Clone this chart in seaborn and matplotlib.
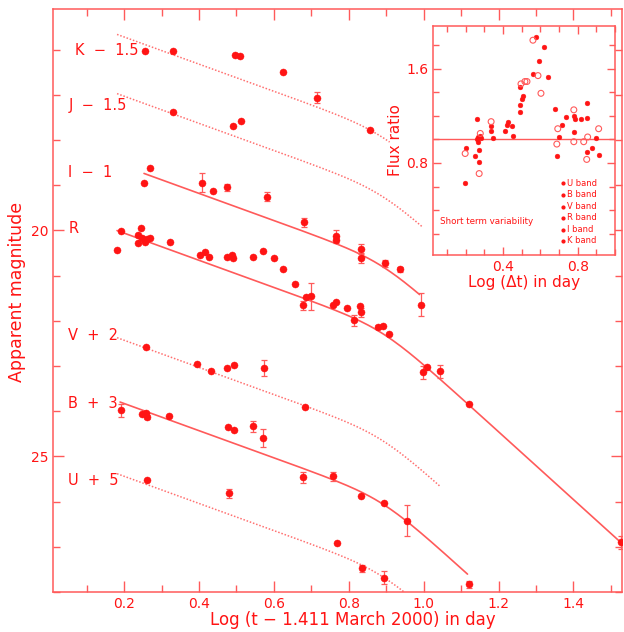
import numpy as np
import pandas as pd
import matplotlib
matplotlib.use("Agg")
import matplotlib.pyplot as plt
from matplotlib.ticker import MultipleLocator
import seaborn as sns

sns.set_style("ticks")
plt.rcParams['font.family'] = ['DejaVu Sans']

RED = '#ff1414'
LRED = '#ff5a5a'

# ---------------- main light-curve data ----------------
K_x = [0.256, 0.331, 0.496, 0.509, 0.624, 0.715, 0.856]
K_y = [16.02, 16.04, 16.11, 16.15, 16.50, 17.06, 17.77]
K_e = [0, 0, 0, 0, 0, 0.12, 0]

J_x = [0.331, 0.491, 0.512]
J_y = [17.39, 17.70, 17.57]
J_e = [0, 0, 0]

I_x = [0.254, 0.269, 0.407, 0.436, 0.474, 0.581, 0.680, 0.765, 0.767, 0.832, 0.832, 0.896, 0.936, 0.992]
I_y = [18.94, 18.61, 18.94, 19.12, 19.05, 19.25, 19.82, 20.13, 20.22, 20.40, 20.62, 20.73, 20.86, 21.64]
I_e = [0, 0, 0.2, 0, 0.08, 0.1, 0.1, 0.15, 0, 0.1, 0.1, 0.08, 0.05, 0.25]

R_x = [0.181, 0.192, 0.238, 0.238, 0.245, 0.247, 0.256, 0.260, 0.268, 0.323, 0.403, 0.416,
       0.427, 0.474, 0.488, 0.490, 0.544, 0.571, 0.600, 0.624, 0.656, 0.677, 0.685, 0.699,
       0.757, 0.765, 0.795, 0.813, 0.829, 0.832, 0.877, 0.891, 0.907, 0.997, 1.008, 1.043,
       1.120, 1.528]
R_y = [20.43, 20.02, 20.11, 20.27, 19.95, 20.16, 20.26, 20.18, 20.17, 20.26, 20.55, 20.48,
       20.59, 20.58, 20.55, 20.60, 20.58, 20.46, 20.62, 20.86, 21.19, 21.66, 21.48, 21.46,
       21.66, 21.59, 21.71, 21.99, 21.68, 21.81, 22.14, 22.12, 22.29, 23.14, 23.03, 23.12,
       23.83, 26.90]
R_e = [0, 0, 0, 0, 0, 0, 0, 0, 0, 0, 0, 0,
       0, 0, 0, 0, 0, 0, 0, 0, 0, 0.1, 0, 0.3,
       0, 0, 0, 0.12, 0, 0.1, 0.05, 0, 0, 0.15, 0, 0.15,
       0, 0.15]

V_x = [0.259, 0.395, 0.432, 0.475, 0.493, 0.573, 0.683]
V_y = [22.57, 22.95, 23.11, 23.05, 22.97, 23.05, 23.91]
V_e = [0, 0, 0, 0, 0, 0.18, 0]

B_x = [0.192, 0.248, 0.259, 0.261, 0.320, 0.477, 0.493, 0.544, 0.571, 0.677, 0.757, 0.832, 0.893, 0.955, 1.120]
B_y = [23.98, 24.07, 24.05, 24.13, 24.11, 24.35, 24.42, 24.33, 24.60, 25.46, 25.44, 25.88, 26.04, 26.42, 27.83]
B_e = [0.15, 0, 0, 0.05, 0, 0, 0, 0.12, 0.2, 0.12, 0.1, 0, 0, 0.35, 0.08]

U_x = [0.261, 0.480, 0.768, 0.835, 0.893]
U_y = [25.53, 25.82, 26.92, 27.48, 27.68]
U_e = [0, 0.1, 0, 0.08, 0.15]

bands = ['K', 'J', 'I', 'R', 'V', 'B', 'U']
labels = ['K  \u2212  1.5', 'J  \u2212  1.5', 'I  \u2212  1', 'R', 'V  +  2', 'B  +  3', 'U  +  5']
label_y = [16.02, 17.23, 18.72, 19.96, 22.32, 23.83, 25.53]
label_x = [0.069, 0.051, 0.051, 0.051, 0.051, 0.051, 0.051]

# broken power-law fit parameters (mag per dex before / after break, break log t)
slope1 = 3.0
slope2 = 7.5
log_tb = 0.89
smooth_w = 0.5
fit_mb = [17.79, 19.10, 20.65, 22.13, 24.50, 25.90, 27.51]
fit_start = [0.181, 0.181, 0.253, 0.181, 0.181, 0.189, 0.181]
fit_end = [0.909, 0.997, 0.989, 1.528, 1.043, 1.117, 0.975]
fit_style = ['dot', 'dot', 'solid', 'solid', 'dot', 'solid', 'dot']

data = {
    'K': (K_x, K_y, K_e), 'J': (J_x, J_y, J_e), 'I': (I_x, I_y, I_e),
    'R': (R_x, R_y, R_e), 'V': (V_x, V_y, V_e), 'B': (B_x, B_y, B_e),
    'U': (U_x, U_y, U_e),
}

# ---------------- inset data ----------------
ins_fill_x = [0.197, 0.203, 0.261, 0.251, 0.272, 0.272, 0.262, 0.268, 0.276, 0.265, 0.282,
              0.336, 0.336, 0.347, 0.411, 0.421, 0.427, 0.448, 0.453, 0.491, 0.491, 0.501,
              0.507, 0.491, 0.576, 0.619, 0.592, 0.560, 0.640, 0.677, 0.736, 0.715, 0.699,
              0.688, 0.779, 0.784, 0.779, 0.816, 0.848, 0.848, 0.848, 0.875, 0.896, 0.912]
ins_fill_y = [0.634, 0.93, 1.17, 0.86, 0.91, 0.81, 1.00, 1.02, 1.03, 0.98, 1.01,
              1.11, 1.07, 1.01, 1.07, 1.12, 1.15, 1.11, 1.03, 1.23, 1.29, 1.34,
              1.37, 1.44, 1.87, 1.78, 1.66, 1.55, 1.53, 1.26, 1.19, 1.12, 1.02,
              0.86, 1.20, 1.17, 1.06, 1.17, 1.31, 1.18, 0.89, 0.93, 1.01, 0.87]
ins_open_x = [0.197, 0.272, 0.278, 0.336, 0.496, 0.517, 0.528, 0.560, 0.587, 0.603,
              0.693, 0.688, 0.779, 0.779, 0.832, 0.853, 0.848, 0.912]
ins_open_y = [0.88, 0.71, 1.05, 1.15, 1.47, 1.49, 1.49, 1.84, 1.54, 1.39,
              1.09, 0.96, 1.25, 0.98, 0.98, 1.02, 0.83, 1.09]
ins_legend = ['U band', 'B band', 'V band', 'R band', 'I band', 'K band']
ins_legend_y = [0.626, 0.532, 0.43, 0.336, 0.234, 0.14]

# ---------------- figure ----------------
fig = plt.figure(figsize=(6.24, 6.32), dpi=100)
ax = fig.add_axes([0.085, 0.0633, 0.912, 0.9225])


def model(x, mb):
    d = x - log_tb
    return mb + smooth_w * np.log10(10 ** (slope1 * d / smooth_w) + 10 ** (slope2 * d / smooth_w))


for i, b in enumerate(bands):
    xs = np.linspace(fit_start[i], fit_end[i], 200)
    ys = model(xs, fit_mb[i])
    if fit_style[i] == 'dot':
        sns.lineplot(x=xs, y=ys, ax=ax, color='#ff7070', lw=1.1, sort=False,
                     dashes=False, linestyle=(0, (1.0, 1.2)))
    else:
        sns.lineplot(x=xs, y=ys, ax=ax, color=LRED, lw=1.2, sort=False)

    bx, by, be = data[b]
    df = pd.DataFrame({'x': bx, 'y': by, 'e': be})
    de = df[df.e > 0]
    if len(de):
        ax.errorbar(de.x, de.y, yerr=de.e, fmt='none', ecolor=LRED, elinewidth=0.9,
                    capsize=2, capthick=0.9, zorder=3)
    sns.scatterplot(data=df, x='x', y='y', ax=ax, color=RED, s=26, edgecolor=RED,
                    linewidth=0.3, zorder=4)
    ax.text(label_x[i], label_y[i], labels[i], color=RED, fontsize=10.5,
            ha='left', va='center')

ax.set_xlim(0.01, 1.53)
ax.set_ylim(28.0, 15.1)
ax.xaxis.set_major_locator(MultipleLocator(0.2))
ax.xaxis.set_minor_locator(MultipleLocator(0.1))
ax.yaxis.set_major_locator(MultipleLocator(5))
ax.yaxis.set_minor_locator(MultipleLocator(1))
ax.set_xticks([0.2, 0.4, 0.6, 0.8, 1.0, 1.2, 1.4])
ax.set_xticklabels(['0.2', '0.4', '0.6', '0.8', '1.0', '1.2', '1.4'])
ax.tick_params(which='both', direction='in', top=True, right=True, colors=LRED,
               labelcolor=RED, labelsize=10)
ax.tick_params(which='major', length=8, width=1)
ax.tick_params(which='minor', length=5, width=1)
for sp in ax.spines.values():
    sp.set_color(LRED)
    sp.set_linewidth(1.1)
ax.set_xlabel('Log (t \u2212 1.411 March 2000) in day', color=RED, fontsize=12)
ax.set_ylabel('Apparent magnitude', color=RED, fontsize=12.5)
ax.xaxis.set_label_coords(0.527, -0.033)
ax.yaxis.set_label_coords(-0.047, 0.515)

# ---------------- inset ----------------
ins = fig.add_axes([0.694, 0.5965, 0.2917, 0.3623])
ins.axhline(1.0, color=LRED, lw=1.0, zorder=1)
sns.scatterplot(x=ins_fill_x, y=ins_fill_y, ax=ins, color=RED, s=12, edgecolor=RED,
                linewidth=0.3, zorder=3)
sns.scatterplot(x=ins_open_x, y=ins_open_y, ax=ins, facecolor='none', edgecolor=LRED,
                s=18, linewidth=0.8, zorder=3)
ins.set_xlim(0.025, 1.0)
ins.set_ylim(0.02, 1.96)
ins.xaxis.set_major_locator(MultipleLocator(0.4))
ins.xaxis.set_minor_locator(MultipleLocator(0.1))
ins.yaxis.set_major_locator(MultipleLocator(0.8))
ins.yaxis.set_minor_locator(MultipleLocator(0.2))
ins.tick_params(which='both', direction='in', top=True, right=True, colors=LRED,
                labelcolor=RED, labelsize=10)
ins.tick_params(which='major', length=6, width=1)
ins.tick_params(which='minor', length=4, width=1)
for sp in ins.spines.values():
    sp.set_color(LRED)
    sp.set_linewidth(1.1)
ins.set_xlabel('Log (\u0394t) in day', color=RED, fontsize=11, labelpad=1)
ins.set_ylabel('Flux ratio', color=RED, fontsize=11, labelpad=2)
ins.text(0.064, 0.30, 'Short term variability', color=RED, fontsize=6.3,
         ha='left', va='center')
for lab, ly in zip(ins_legend, ins_legend_y):
    ins.plot([0.72], [ly], marker='o', ms=2, color=RED, ls='none')
    ins.text(0.745, ly, lab, color=RED, fontsize=6, ha='left', va='center')

fig.savefig('out.png', dpi=100)
